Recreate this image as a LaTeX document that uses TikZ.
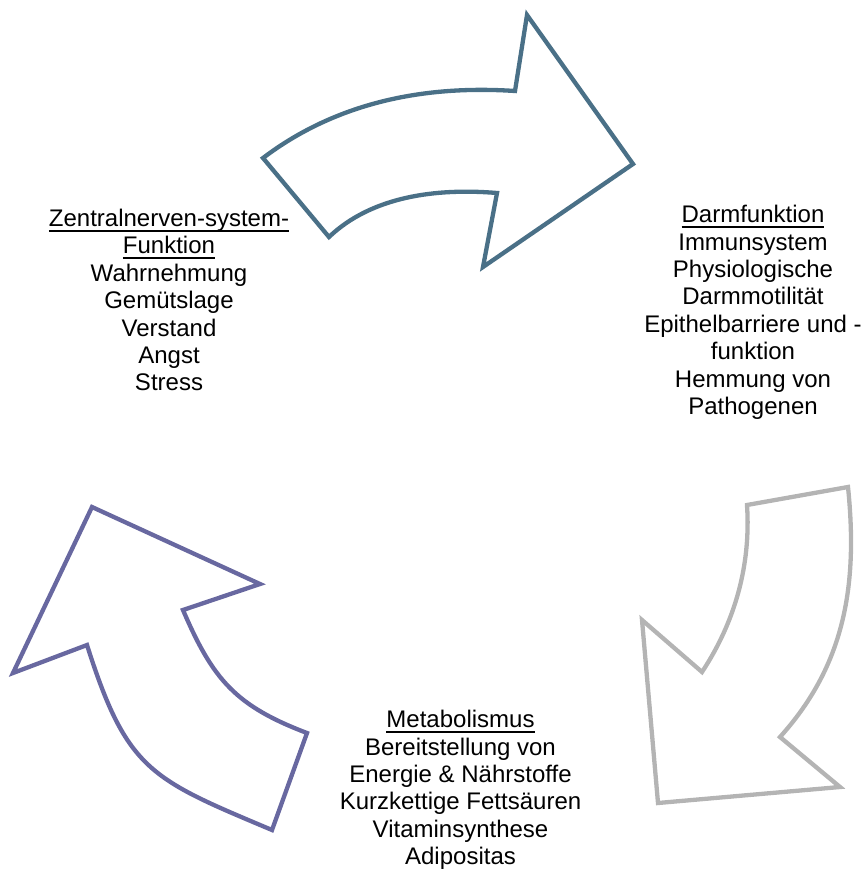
\documentclass[tikz,border=0pt]{standalone}
\usepackage{fontspec}
\setmainfont{Liberation Sans}
\definecolor{ArrowBlue}{RGB}{74,112,135}
\definecolor{ArrowGray}{RGB}{180,180,180}
\definecolor{ArrowViolet}{RGB}{104,104,160}
\newcommand{\ulhead}[1]{\setbox0\hbox{#1}\rlap{\rule[-5pt]{\wd0}{1.5pt}}\box0}

\begin{document}
\begin{tikzpicture}[x=1pt, y=-1pt]
                \tikzset{ArrowStyle/.style= {line width=4.3pt, line join=miter}}
                \tikzset{TextStyle/.style= {align=center, inner sep=0pt, anchor=base,
                    font=\fontsize{24}{27.4}\selectfont}}
                \useasboundingbox (0,0) rectangle (863,870);
                \draw[ArrowStyle, draw=ArrowBlue] (263,158) .. controls (337,102) and (425,85) .. (515,91)
                    -- (527,15) -- (633,164) -- (483,267) -- (497,193)
                    .. controls (437,188) and (372,196) .. (329,237) -- cycle;
                \draw[ArrowStyle, draw=ArrowGray] (848,487) .. controls (858,585) and (845,665) .. (780,737)
                    -- (840,787) -- (658,803) -- (642,620) -- (702,672)
                    .. controls (735,622) and (751,565) .. (747,505) -- cycle;
                \draw[ArrowStyle, draw=ArrowViolet] (272,830) .. controls (151,779) and (127,771) .. (87,645)
                    -- (13,673) -- (92,507) -- (260,584) -- (183,610)
                    .. controls (213,680) and (236,706) .. (307,733) -- cycle;
                \node[TextStyle] (zns) at (169,390.9) {\ulhead{Zentralnerven-system-}\\\ulhead{Funktion}\\Wahrnehmung\\Gemütslage\\Verstand\\Angst\\Stress};
                \node[TextStyle] (darm) at (753,414.5) {\ulhead{Darmfunktion}\\Immunsystem\\Physiologische\\Darmmotilität\\Epithelbarriere und -\\funktion\\Hemmung von\\Pathogenen};
                \node[TextStyle] (meta) at (460.5,864.7) {\ulhead{Metabolismus}\\Bereitstellung von\\Energie \& Nährstoffe\\Kurzkettige Fettsäuren\\Vitaminsynthese\\Adipositas};
            \end{tikzpicture}
\end{document}
